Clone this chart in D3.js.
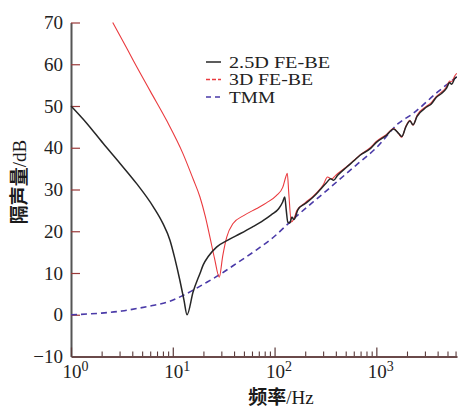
<!DOCTYPE html>
<html><head><meta charset="utf-8">
<script src="https://cdn.jsdelivr.net/npm/d3@7/dist/d3.min.js"></script>
<style>
html,body{margin:0;padding:0;background:#fff;}
svg{display:block;}
</style></head>
<body>
<svg id="c" width="458" height="410"></svg>
<script>
// ---- data (frequency in Hz, sound insulation in dB) ----
const seriesNames = ["2.5D FE-BE", "3D FE-BE", "TMM"];
const yTicks = [-10, 0, 10, 20, 30, 40, 50, 60, 70];
const xMajorTicks = [1, 10, 100, 1000];
const xTickExps = ["0", "1", "2", "3"];

const logF25 = [0, 0.15, 0.317, 0.48, 0.645, 0.81, 0.9, 0.973, 1.02, 1.07, 1.11, 1.14, 1.2, 1.267, 1.3, 1.35, 1.43, 1.55, 1.66, 1.78, 1.89, 1.97, 2.04, 2.08, 2.1, 2.115, 2.13, 2.15, 2.17, 2.19, 2.23, 2.3, 2.38, 2.45, 2.51, 2.55, 2.58, 2.62, 2.71, 2.78, 2.84, 2.94, 3.0, 3.1, 3.17, 3.22, 3.25, 3.29, 3.33, 3.36, 3.4, 3.49, 3.54, 3.59, 3.64, 3.69, 3.72, 3.74, 3.77, 3.79];
const val25 = [50, 46, 41, 36.3, 31.4, 25.8, 22, 17.8, 13.5, 8.2, 3.5, 0, 5.5, 9.9, 12, 14, 16.2, 18, 19.4, 21, 22.6, 24, 25.4, 27, 28.2, 25, 22.2, 22, 23.4, 22.8, 25.2, 26.6, 28.2, 30, 31.6, 32.6, 32.2, 33.4, 35.4, 36.9, 38.2, 39.8, 41.3, 43, 44.5, 43.4, 42.7, 45, 46.4, 45.5, 47.5, 49.7, 50.5, 52.1, 53, 54.3, 55.6, 55.2, 56.6, 57];

const logF3 = [0.41, 0.5, 0.612, 0.78, 0.94, 1.1, 1.2, 1.267, 1.32, 1.365, 1.41, 1.457, 1.49, 1.53, 1.59, 1.7, 1.82, 1.92, 2.02, 2.08, 2.11, 2.125, 2.14, 2.165, 2.19, 2.22, 2.3, 2.38, 2.45, 2.48, 2.52, 2.56, 2.6, 2.71, 2.78, 2.84, 2.94, 3.0, 3.1, 3.17, 3.22, 3.25, 3.29, 3.33, 3.36, 3.4, 3.49, 3.54, 3.59, 3.64, 3.69, 3.72, 3.74, 3.77, 3.79];
const val3 = [70, 66, 60.9, 53.5, 46.5, 38.6, 32.5, 28.2, 23.5, 18.6, 13.5, 9, 14, 18.6, 21.8, 23.8, 25.4, 26.8, 28.6, 30.5, 33, 33.9, 29, 22.2, 23, 25, 26.8, 28.4, 30.2, 31.2, 33, 32.5, 33.4, 35.5, 37, 38.3, 40, 41.5, 43.2, 44.6, 43.3, 42.5, 45.2, 46.6, 45.4, 47.8, 49.9, 50.8, 52.3, 53.3, 54.6, 56, 55.8, 57.2, 57.8];

const logFT = [0, 0.3, 0.5, 0.65, 0.8, 0.97, 1.09, 1.2, 1.3, 1.46, 1.65, 1.82, 2.0, 2.15, 2.5, 2.8, 3.0, 3.21, 3.36, 3.6, 3.79];
const valT = [0, 0.4, 0.9, 1.5, 2.2, 3.2, 4.5, 5.9, 7.3, 9.6, 12.7, 15.5, 18.8, 22.2, 29.5, 35.8, 40, 45.7, 48.2, 53.3, 57];

const pts = (lf, v) => lf.map((l, i) => ({ f: Math.pow(10, l), v: v[i] }));
const data25 = pts(logF25, val25);
const data3 = pts(logF3, val3);
const dataT = pts(logFT, valT);

// ---- chart ----
const svg = d3.select("#c");
const x = d3.scaleLog().domain([1, 6200]).range([71, 457]);
const y = d3.scaleLinear().domain([-10, 70]).range([356.5, 22.5]);
const serif = "'Liberation Serif','Times New Roman',serif";
const axisCol = "#6a4a4a", tickCol = "#9a3a3a";

// y axis
const gy = svg.append("g").attr("transform", "translate(71,0)")
  .call(d3.axisLeft(y).tickValues(yTicks).tickSize(-9).tickSizeOuter(0).tickPadding(8));
gy.select(".domain").attr("stroke", "#555").attr("stroke-width", 2);
gy.selectAll(".tick line").attr("stroke", tickCol).attr("stroke-width", 1.2);
gy.selectAll(".tick text").attr("font-family", serif).attr("font-size", 19).attr("fill", "#222");
gy.selectAll(".tick").filter(d => d === -10).select("line").remove();

// x axis minor ticks
const minor = [];
for (let e = 0; e < 4; e++) for (let m = 2; m <= 9; m++) { const v = m * Math.pow(10, e); if (v <= 6200) minor.push(v); }
const gxm = svg.append("g").attr("transform", "translate(0,356.5)")
  .call(d3.axisBottom(x).tickValues(minor).tickSize(-5).tickFormat(""));
gxm.select(".domain").remove();
gxm.selectAll(".tick line").attr("stroke", "#5a3a3a").attr("stroke-width", 1.1);

// x axis major
const gx = svg.append("g").attr("transform", "translate(0,356.5)")
  .call(d3.axisBottom(x).tickValues(xMajorTicks).tickSize(-9).tickSizeOuter(0).tickPadding(8).tickFormat(""));
gx.select(".domain").attr("stroke", axisCol).attr("stroke-width", 1.8);
gx.selectAll(".tick line").attr("stroke", "#5a3a3a").attr("stroke-width", 1.2);
gx.selectAll(".tick").each(function (d, i) {
  const t = d3.select(this).select("text")
    .attr("font-family", serif).attr("font-size", 19).attr("fill", "#222")
    .attr("x", 4).attr("text-anchor", "middle");
  t.text(null);
  t.append("tspan").text("10");
  t.append("tspan").attr("font-size", 14).attr("dy", -7).text(xTickExps[i]);
});

// lines
const line = d3.line().x(d => x(d.f)).y(d => y(d.v)).curve(d3.curveMonotoneX);
svg.append("path").datum(dataT).attr("d", line).attr("fill", "none")
  .attr("stroke", "#4a3aa8").attr("stroke-width", 1.6).attr("stroke-dasharray", "6,4");
svg.append("path").datum(data3).attr("d", line).attr("fill", "none")
  .attr("stroke", "#ea3a3e").attr("stroke-width", 1.1);
svg.append("path").datum(data25).attr("d", line).attr("fill", "none")
  .attr("stroke", "#262626").attr("stroke-width", 1.5);

// legend
const legStyles = [
  { c: "#262626", w: 1.5, d: null, len: 101 },
  { c: "#ea3a3e", w: 1.4, d: "4,2", len: 84 },
  { c: "#4a3aa8", w: 1.6, d: "5,4", len: 46 }
];
const lg = svg.append("g");
seriesNames.forEach((n, i) => {
  const cy = 62 + i * 17.5;
  lg.append("line").attr("x1", 206).attr("x2", 221).attr("y1", cy).attr("y2", cy)
    .attr("stroke", legStyles[i].c).attr("stroke-width", legStyles[i].w)
    .attr("stroke-dasharray", legStyles[i].d);
  lg.append("text").attr("x", 229).attr("y", cy + 5.5).attr("font-family", serif)
    .attr("font-size", 16.5).attr("fill", "#222")
    .attr("textLength", legStyles[i].len).attr("lengthAdjust", "spacingAndGlyphs").text(n);
});

// axis titles
const cjk = "'Noto Sans CJK SC','Liberation Serif',serif";
svg.append("text").attr("x", 281).attr("y", 404).attr("text-anchor", "middle")
  .attr("font-size", 19).attr("fill", "#1a1a1a")
  .call(t => {
    t.append("tspan").attr("font-family", cjk).attr("font-weight", "bold").text("频率");
    t.append("tspan").attr("font-family", serif).text("/Hz");
  });
svg.append("text").attr("transform", "translate(26,182) rotate(-90)").attr("text-anchor", "middle")
  .attr("font-size", 19).attr("fill", "#1a1a1a")
  .call(t => {
    t.append("tspan").attr("font-family", cjk).attr("font-weight", "bold").text("隔声量");
    t.append("tspan").attr("font-family", serif).text("/dB");
  });
</script>
</body></html>
